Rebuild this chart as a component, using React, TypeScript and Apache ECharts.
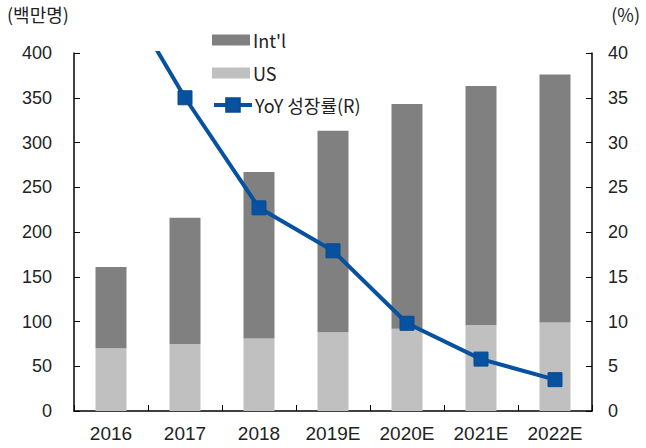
import React, { useEffect, useRef } from "react";
import * as echarts from "echarts";

const categories = ["2016", "2017", "2018", "2019E", "2020E", "2021E", "2022E"];
const usValues = [70, 75, 81, 88, 92, 96, 99];
const totalValues = [161, 216, 267, 313, 343, 363, 376];
const intlValues = totalValues.map((t, i) => t - usValues[i]);
const yoyValues = [49, 35.0, 22.7, 17.9, 9.8, 5.8, 3.5];
const leftTicks = { min: 0, max: 400, interval: 50 };
const rightTicks = { min: 0, max: 40, interval: 5 };

const NUM_FONT = "'Liberation Sans', Arial, sans-serif";
const KR_FONT = "'Noto Sans CJK KR', 'Liberation Sans', sans-serif";
const BLUE = "#0652a0";

export default function App() {
  const ref = useRef<HTMLDivElement>(null);
  useEffect(() => {
    if (!ref.current) return;
    const chart = echarts.init(ref.current, undefined, { renderer: "svg" });
    const legendText = { fontFamily: KR_FONT, fontSize: 18, color: "#222", padding: [0, 0, 0, -2] };
    chart.setOption({
      animation: false,
      backgroundColor: "#fff",
      grid: { left: 74, right: 54, top: 53, bottom: 37, containLabel: false },
      legend: [
        {
          orient: "vertical",
          left: 207,
          top: 26,
          itemWidth: 38,
          itemHeight: 11,
          itemGap: 15,
          textStyle: legendText,
          data: [
            { name: "Int'l", icon: "rect" },
            { name: "US", icon: "rect" },
          ],
        },
        {
          orient: "vertical",
          left: 207,
          top: 91,
          itemWidth: 38,
          itemHeight: 17,
          textStyle: legendText,
          lineStyle: { width: 4, color: BLUE },
          data: [{ name: "YoY 성장률(R)" }],
        },
      ],
      graphic: [
        { type: "text", left: 7, top: 5, style: { text: "(백만명)", font: `18px ${KR_FONT}`, fill: "#222" } },
        { type: "text", right: 6, top: 5, style: { text: "(%)", font: `18px ${KR_FONT}`, fill: "#222" } },
      ],
      xAxis: {
        type: "category",
        data: categories,
        axisLine: { lineStyle: { color: "#000", width: 1.5 } },
        axisTick: { show: true, inside: true, length: 6, alignWithLabel: false, lineStyle: { color: "#000" } },
        axisLabel: { fontFamily: NUM_FONT, fontSize: 19, color: "#222", margin: 13 },
        splitLine: { show: false },
      },
      yAxis: [
        {
          type: "value",
          ...leftTicks,
          position: "left",
          axisLine: { show: true, lineStyle: { color: "#000", width: 1.5 } },
          axisTick: { show: true, inside: true, length: 6, lineStyle: { color: "#000" } },
          axisLabel: { fontFamily: NUM_FONT, fontSize: 18, color: "#222", margin: 22 },
          splitLine: { show: false },
        },
        {
          type: "value",
          ...rightTicks,
          position: "right",
          axisLine: { show: true, lineStyle: { color: "#000", width: 1.5 } },
          axisTick: { show: true, inside: true, length: 6, lineStyle: { color: "#000" } },
          axisLabel: { fontFamily: NUM_FONT, fontSize: 18, color: "#222", margin: 16 },
          splitLine: { show: false },
        },
      ],
      series: [
        {
          name: "US",
          type: "bar",
          stack: "total",
          data: usValues,
          barWidth: 31,
          itemStyle: { color: "#c0c0c0" },
        },
        {
          name: "Int'l",
          type: "bar",
          stack: "total",
          data: intlValues,
          barWidth: 31,
          itemStyle: { color: "#808080" },
        },
        {
          name: "YoY 성장률(R)",
          type: "line",
          yAxisIndex: 1,
          data: yoyValues,
          clip: true,
          symbol: "rect",
          symbolSize: 14,
          lineStyle: { color: BLUE, width: 4 },
          itemStyle: { color: BLUE, borderColor: "#0a4a8e", borderWidth: 1 },
        },
      ],
    });
    return () => chart.dispose();
  }, []);
  return (
    <div
      ref={ref}
      style={{ position: "fixed", left: 0, top: 0, width: 646, height: 448 }}
    />
  );
}
